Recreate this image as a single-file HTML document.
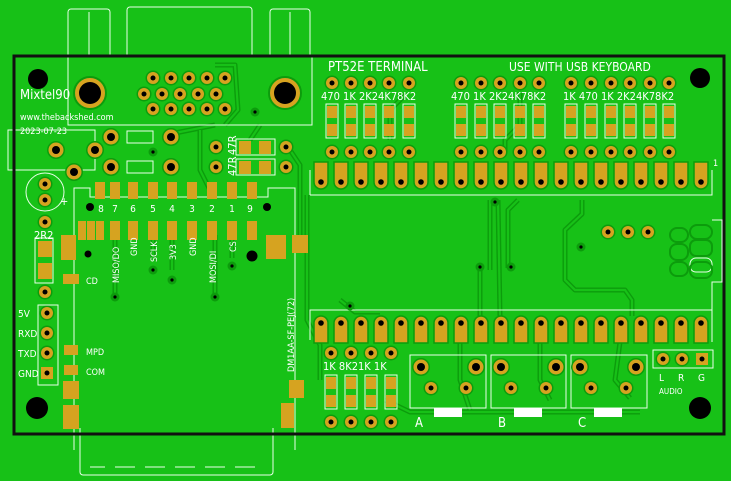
<!DOCTYPE html>
<html><head><meta charset="utf-8"><style>
html,body{margin:0;padding:0;background:#17c117;}
svg{display:block}
text{font-family:"DejaVu Sans Condensed","Liberation Sans",sans-serif;fill:#fff}
</style></head><body>
<svg width="731" height="481" viewBox="0 0 731 481" xmlns="http://www.w3.org/2000/svg">
<rect width="731" height="481" fill="#17c117"/>
<defs>
<g id="p"><circle r="7.5" fill="#0c9c0c"/><circle r="6" fill="#d6a320"/><circle r="2.5" fill="#000"/></g>
<g id="pb"><circle r="9" fill="#0c9c0c"/><circle r="7.5" fill="#d6a320"/><circle r="4" fill="#000"/></g>
<g id="tp"><path d="M-7,-20 h14 v20 a7,7 0 0 1 -14,0z" fill="#d6a320" stroke="#0c9c0c" stroke-width="1.5"/><circle cy="0" r="2.8" fill="#000"/></g>
<g id="bp"><path d="M-7,20 h14 v-20 a7,7 0 0 0 -14,0z" fill="#d6a320" stroke="#0c9c0c" stroke-width="1.5"/><circle cy="0" r="2.8" fill="#000"/></g>
<g id="r"><rect x="-6" y="-17" width="12" height="34" fill="none" stroke="#e8ffe8" stroke-width="1"/><rect x="-5" y="-15" width="10" height="12" fill="#d6a320"/><rect x="-5" y="3" width="10" height="12" fill="#d6a320"/></g>
<g id="via"><circle r="4.5" fill="#0c9c0c"/><circle r="1.6" fill="#000"/></g>
</defs>
<!-- traces -->
<g fill="none" stroke="#0c9c0c" stroke-width="5" stroke-linejoin="round">
<path d="M520,92 V125 L505,140 V152"/>
<path d="M405,95 L390,110 V140"/>
<path d="M490,200 V270"/><path d="M518,200 L508,210 V268"/>
<path d="M582,200 V214 L565,230 V280 L575,290 H625 L632,300 V316"/>
<path d="M480,265 V316"/><path d="M498,200 L500,316"/>
<path d="M340,300 L355,312 H380"/>
<path d="M307,195 V320 L320,345 V380"/>
<path d="M215,65 L235,65 L238,110 L225,125"/>
<path d="M200,130 L200,170 L210,190"/><path d="M290,150 L300,165 V240"/>
<path d="M620,342 L615,380 L630,398"/><path d="M540,342 L540,380 L550,400"/>
<path d="M460,342 V380 L470,410"/><path d="M385,400 L410,412 H640"/>
<path d="M215,235 V297"/><path d="M115,240 V297"/><path d="M153,235 V260"/><path d="M172,235 V270"/><path d="M232,235 V258"/>
<path d="M260,125 L250,140"/><path d="M215,125 L175,133"/>
</g>
<g fill="none" stroke="#17c117" stroke-width="2.2">
<path d="M520,92 V125 L505,140 V152"/>
<path d="M405,95 L390,110 V140"/>
<path d="M490,200 V270"/><path d="M518,200 L508,210 V268"/>
<path d="M582,200 V214 L565,230 V280 L575,290 H625 L632,300 V316"/>
<path d="M480,265 V316"/><path d="M498,200 L500,316"/>
<path d="M340,300 L355,312 H380"/>
<path d="M307,195 V320 L320,345 V380"/>
<path d="M215,65 L235,65 L238,110 L225,125"/>
<path d="M200,130 L200,170 L210,190"/><path d="M290,150 L300,165 V240"/>
<path d="M620,342 L615,380 L630,398"/><path d="M540,342 L540,380 L550,400"/>
<path d="M460,342 V380 L470,410"/><path d="M385,400 L410,412 H640"/>
<path d="M215,235 V297"/><path d="M115,240 V297"/><path d="M153,235 V260"/><path d="M172,235 V270"/><path d="M232,235 V258"/>
<path d="M260,125 L250,140"/><path d="M215,125 L175,133"/>
</g>
<!-- silkscreen outlines -->
<g fill="none" stroke="#e8ffe8" stroke-width="1">
<path d="M68,55 V12 a3,3 0 0 1 3,-3 H107 a3,3 0 0 1 3,3 V55"/><line x1="89" y1="12" x2="89" y2="55"/>
<path d="M127,55 V10 a3,3 0 0 1 3,-3 H249 a3,3 0 0 1 3,3 V55"/>
<path d="M270,55 V12 a3,3 0 0 1 3,-3 H307 a3,3 0 0 1 3,3 V55"/><line x1="290" y1="12" x2="290" y2="55"/>
<rect x="68" y="55" width="244" height="70"/>
<rect x="8" y="130" width="87" height="40"/>
<rect x="127" y="131" width="26" height="12"/><rect x="127" y="161" width="26" height="12"/>
<circle cx="45" cy="192" r="19"/>
<rect x="236" y="139" width="39" height="16"/><rect x="236" y="159" width="39" height="16"/>
<path d="M74,450 V188 H90 V197 H268 V188 H295 V450"/>
<path d="M80,428 V472 a3,3 0 0 0 3,3 H270 a3,3 0 0 0 3,-3 V428"/>
<path d="M90,467 H105 M115,467 H135 M145,467 H165 M175,467 H195 M205,467 H225 M235,467 H255" />
<path d="M310,195 V170 M310,195 H712 V170 M712,220 H722 V282 H712 V310 H310 V340 M712,310 V342"/>
<rect x="38" y="305" width="20" height="80"/>
<rect x="410" y="355" width="76" height="53"/><rect x="491" y="355" width="75" height="53"/><rect x="571" y="355" width="76" height="53"/>
<rect x="653" y="350" width="60" height="18"/>
<rect x="35" y="238" width="18" height="45"/>
<rect x="670" y="228" width="18" height="14" rx="7"/><rect x="670" y="244" width="18" height="16" rx="7"/><rect x="670" y="262" width="18" height="14" rx="7"/>
<rect x="690" y="225" width="22" height="14" rx="7"/><rect x="690" y="240" width="22" height="16" rx="6"/><rect x="690" y="258" width="22" height="14" rx="6"/><rect x="690" y="262" width="22" height="16" rx="7"/>
</g>
<g fill="none" stroke="#0c9c0c" stroke-width="2"><rect x="670" y="228" width="18" height="14" rx="7"/><rect x="670" y="244" width="18" height="16" rx="7"/><rect x="670" y="262" width="18" height="14" rx="7"/><rect x="690" y="225" width="22" height="14" rx="7"/><rect x="690" y="240" width="22" height="16" rx="6"/><rect x="690" y="262" width="22" height="16" rx="7"/></g>
<!-- board outline -->
<rect x="14" y="56" width="710" height="378" fill="none" stroke="#111" stroke-width="3"/>
<!-- holes -->
<circle cx="38" cy="79" r="10" fill="#000"/><circle cx="700" cy="78" r="10" fill="#000"/>
<circle cx="37" cy="408" r="11" fill="#000"/><circle cx="700" cy="408" r="11" fill="#000"/>
<!-- DB9 -->
<circle cx="90" cy="93" r="16" fill="#d6a320" stroke="#0c9c0c" stroke-width="2"/><circle cx="90" cy="93" r="11" fill="#000"/>
<circle cx="285" cy="93" r="16" fill="#d6a320" stroke="#0c9c0c" stroke-width="2"/><circle cx="285" cy="93" r="11" fill="#000"/>
<g>
<use href="#p" x="153" y="78"/><use href="#p" x="171" y="78"/><use href="#p" x="189" y="78"/><use href="#p" x="207" y="78"/><use href="#p" x="225" y="78"/>
<use href="#p" x="144" y="94"/><use href="#p" x="162" y="94"/><use href="#p" x="180" y="94"/><use href="#p" x="198" y="94"/><use href="#p" x="216" y="94"/>
<use href="#p" x="153" y="109"/><use href="#p" x="171" y="109"/><use href="#p" x="189" y="109"/><use href="#p" x="207" y="109"/><use href="#p" x="225" y="109"/>
</g>
<use href="#via" x="255" y="112"/><use href="#via" x="153" y="152"/>
<!-- diodes / left parts -->
<use href="#pb" x="111" y="137"/><use href="#pb" x="171" y="137"/><use href="#pb" x="111" y="167"/><use href="#pb" x="171" y="167"/>
<use href="#pb" x="56" y="150"/><use href="#pb" x="95" y="150"/><use href="#pb" x="74" y="172"/>
<use href="#p" x="45" y="184"/><use href="#p" x="45" y="200"/><use href="#p" x="45" y="222"/>
<rect x="38" y="241" width="14" height="16" fill="#d6a320"/><rect x="38" y="263" width="14" height="16" fill="#d6a320"/>
<use href="#p" x="45" y="292"/>
<use href="#p" x="47" y="313"/><use href="#p" x="47" y="333"/><use href="#p" x="47" y="353"/>
<g transform="translate(47,373)"><rect x="-6" y="-6" width="12" height="12" fill="#d6a320"/><circle r="2.5" fill="#000"/></g>
<!-- 47R -->
<use href="#p" x="216" y="147"/><use href="#p" x="286" y="147"/><use href="#p" x="216" y="167"/><use href="#p" x="286" y="167"/>
<rect x="239" y="141" width="12" height="13" fill="#d6a320"/><rect x="259" y="141" width="12" height="13" fill="#d6a320"/>
<rect x="239" y="161" width="12" height="13" fill="#d6a320"/><rect x="259" y="161" width="12" height="13" fill="#d6a320"/>
<text transform="translate(236,155) rotate(-90)" font-size="11">47R</text>
<text transform="translate(236,176) rotate(-90)" font-size="11">47R</text>
<!-- SD card pads -->
<g fill="#d6a320">
<rect x="95" y="182" width="10" height="17"/><rect x="110" y="182" width="10" height="17"/><rect x="128" y="182" width="10" height="17"/><rect x="148" y="182" width="10" height="17"/><rect x="167" y="182" width="10" height="17"/><rect x="187" y="182" width="10" height="17"/><rect x="207" y="182" width="10" height="17"/><rect x="227" y="182" width="10" height="17"/><rect x="247" y="182" width="10" height="17"/>
<rect x="78" y="221" width="8" height="19"/><rect x="87" y="221" width="8" height="19"/><rect x="96" y="221" width="8" height="19"/><rect x="110" y="221" width="10" height="19"/><rect x="128" y="221" width="10" height="19"/><rect x="148" y="221" width="10" height="19"/><rect x="167" y="221" width="10" height="19"/><rect x="187" y="221" width="10" height="19"/><rect x="207" y="221" width="10" height="19"/><rect x="227" y="221" width="10" height="19"/><rect x="247" y="221" width="10" height="19"/>
<path d="M61,235 h15 v25 h-15z"/><rect x="266" y="235" width="20" height="24"/><rect x="292" y="235" width="16" height="18"/>
<rect x="63" y="274" width="16" height="10"/><rect x="64" y="345" width="14" height="10"/><rect x="64" y="365" width="14" height="10"/>
<rect x="63" y="381" width="16" height="18"/><rect x="63" y="405" width="16" height="24"/>
<rect x="289" y="380" width="15" height="18"/><rect x="281" y="403" width="13" height="25"/>
</g>
<circle cx="90" cy="207" r="4" fill="#000"/><circle cx="267" cy="207" r="4" fill="#000"/>
<circle cx="88" cy="254" r="3.5" fill="#000"/><circle cx="252" cy="256" r="5.5" fill="#000"/>
<use href="#via" x="115" y="297"/><use href="#via" x="215" y="297"/><use href="#via" x="153" y="270"/><use href="#via" x="172" y="280"/><use href="#via" x="232" y="266"/>
<g font-size="10" text-anchor="middle"><text x="101" y="212">8</text><text x="115" y="212">7</text><text x="133" y="212">6</text><text x="153" y="212">5</text><text x="172" y="212">4</text><text x="192" y="212">3</text><text x="212" y="212">2</text><text x="232" y="212">1</text><text x="250" y="212">9</text></g>
<g font-size="9">
<text transform="translate(119,283) rotate(-90)">MISO/DO</text>
<text transform="translate(137,256) rotate(-90)">GND</text>
<text transform="translate(157,262) rotate(-90)">SCLK</text>
<text transform="translate(176,260) rotate(-90)">3V3</text>
<text transform="translate(196,256) rotate(-90)">GND</text>
<text transform="translate(216,283) rotate(-90)">MOSI/DI</text>
<text transform="translate(236,252) rotate(-90)">CS</text>
<text transform="translate(294,372) rotate(-90)">DM1AA-SF-PEJ(72)</text>
<text x="86" y="284">CD</text><text x="86" y="355">MPD</text><text x="86" y="375">COM</text>
</g>
<g font-size="10"><text x="18" y="317">5V</text><text x="18" y="337">RXD</text><text x="18" y="357">TXD</text><text x="18" y="377">GND</text></g>
<text x="34" y="239" font-size="11">2R2</text>
<text x="60" y="205" font-size="11">+</text>
<text x="20" y="99" font-size="13" fill="#e8f8e8">Mixtel90</text>
<text x="20" y="120" font-size="9">www.thebackshed.com</text>
<text x="20" y="134" font-size="9">2023-07-23</text>
<!-- top header -->
<text x="328" y="71" font-size="13">PT52E TERMINAL</text>
<text x="509" y="71" font-size="12">USE WITH USB KEYBOARD</text>
<g id="toprow">
<use href="#p" x="332" y="83"/><use href="#p" x="351" y="83"/><use href="#p" x="370" y="83"/><use href="#p" x="389" y="83"/><use href="#p" x="409" y="83"/>
<use href="#p" x="461" y="83"/><use href="#p" x="481" y="83"/><use href="#p" x="500" y="83"/><use href="#p" x="520" y="83"/><use href="#p" x="539" y="83"/>
<use href="#p" x="571" y="83"/><use href="#p" x="591" y="83"/><use href="#p" x="611" y="83"/><use href="#p" x="630" y="83"/><use href="#p" x="650" y="83"/><use href="#p" x="669" y="83"/>
</g>
<use href="#toprow" y="69"/>
<g transform="translate(0,121)">
<use href="#r" x="332"/><use href="#r" x="351"/><use href="#r" x="370"/><use href="#r" x="389"/><use href="#r" x="409"/>
<use href="#r" x="461"/><use href="#r" x="481"/><use href="#r" x="500"/><use href="#r" x="520"/><use href="#r" x="539"/>
<use href="#r" x="571"/><use href="#r" x="591"/><use href="#r" x="611"/><use href="#r" x="630"/><use href="#r" x="650"/><use href="#r" x="669"/>
</g>
<g font-size="11"><text x="321" y="100">470 1K 2K24K78K2</text><text x="451" y="100">470 1K 2K24K78K2</text><text x="563" y="100">1K  470 1K 2K24K78K2</text></g>
<text x="713" y="166" font-size="9">1</text>
<g transform="translate(0,182)">
<use href="#tp" x="321"/><use href="#tp" x="341"/><use href="#tp" x="361"/><use href="#tp" x="381"/><use href="#tp" x="401"/><use href="#tp" x="421"/><use href="#tp" x="441"/><use href="#tp" x="461"/><use href="#tp" x="481"/><use href="#tp" x="501"/><use href="#tp" x="521"/><use href="#tp" x="541"/><use href="#tp" x="561"/><use href="#tp" x="581"/><use href="#tp" x="601"/><use href="#tp" x="621"/><use href="#tp" x="641"/><use href="#tp" x="661"/><use href="#tp" x="681"/><use href="#tp" x="701"/>
</g>
<g transform="translate(0,323)">
<use href="#bp" x="321"/><use href="#bp" x="341"/><use href="#bp" x="361"/><use href="#bp" x="381"/><use href="#bp" x="401"/><use href="#bp" x="421"/><use href="#bp" x="441"/><use href="#bp" x="461"/><use href="#bp" x="481"/><use href="#bp" x="501"/><use href="#bp" x="521"/><use href="#bp" x="541"/><use href="#bp" x="561"/><use href="#bp" x="581"/><use href="#bp" x="601"/><use href="#bp" x="621"/><use href="#bp" x="641"/><use href="#bp" x="661"/><use href="#bp" x="681"/><use href="#bp" x="701"/>
</g>
<use href="#via" x="495" y="202"/><use href="#via" x="480" y="267"/><use href="#via" x="511" y="267"/><use href="#via" x="581" y="247"/><use href="#via" x="350" y="306"/>
<use href="#p" x="608" y="232"/><use href="#p" x="628" y="232"/><use href="#p" x="648" y="232"/>
<!-- bottom resistors -->
<use href="#p" x="331" y="353"/><use href="#p" x="351" y="353"/><use href="#p" x="371" y="353"/><use href="#p" x="391" y="353"/>
<g transform="translate(0,392)"><use href="#r" x="331"/><use href="#r" x="351"/><use href="#r" x="371"/><use href="#r" x="391"/></g>
<use href="#p" x="331" y="422"/><use href="#p" x="351" y="422"/><use href="#p" x="371" y="422"/><use href="#p" x="391" y="422"/>
<text x="323" y="370" font-size="11">1K 8K21K  1K</text>
<!-- jacks -->
<g>
<use href="#pb" x="421" y="367"/><use href="#pb" x="476" y="367"/><use href="#p" x="431" y="388"/><use href="#p" x="466" y="388"/>
<use href="#pb" x="501" y="367"/><use href="#pb" x="556" y="367"/><use href="#p" x="511" y="388"/><use href="#p" x="546" y="388"/>
<use href="#pb" x="580" y="367"/><use href="#pb" x="636" y="367"/><use href="#p" x="591" y="388"/><use href="#p" x="626" y="388"/>
</g>
<rect x="434" y="408" width="28" height="9" fill="#fff"/><rect x="514" y="408" width="28" height="9" fill="#fff"/><rect x="594" y="408" width="28" height="9" fill="#fff"/>
<g font-size="13"><text x="415" y="427">A</text><text x="498" y="427">B</text><text x="578" y="427">C</text></g>
<use href="#p" x="663" y="359"/><use href="#p" x="682" y="359"/>
<g transform="translate(702,359)"><rect x="-6" y="-6" width="12" height="12" fill="#d6a320"/><circle r="2.5" fill="#000"/></g>
<g font-size="10"><text x="659" y="381">L</text><text x="678" y="381">R</text><text x="698" y="381">G</text><text x="659" y="394" font-size="8">AUDIO</text></g>
</svg>
</body></html>
